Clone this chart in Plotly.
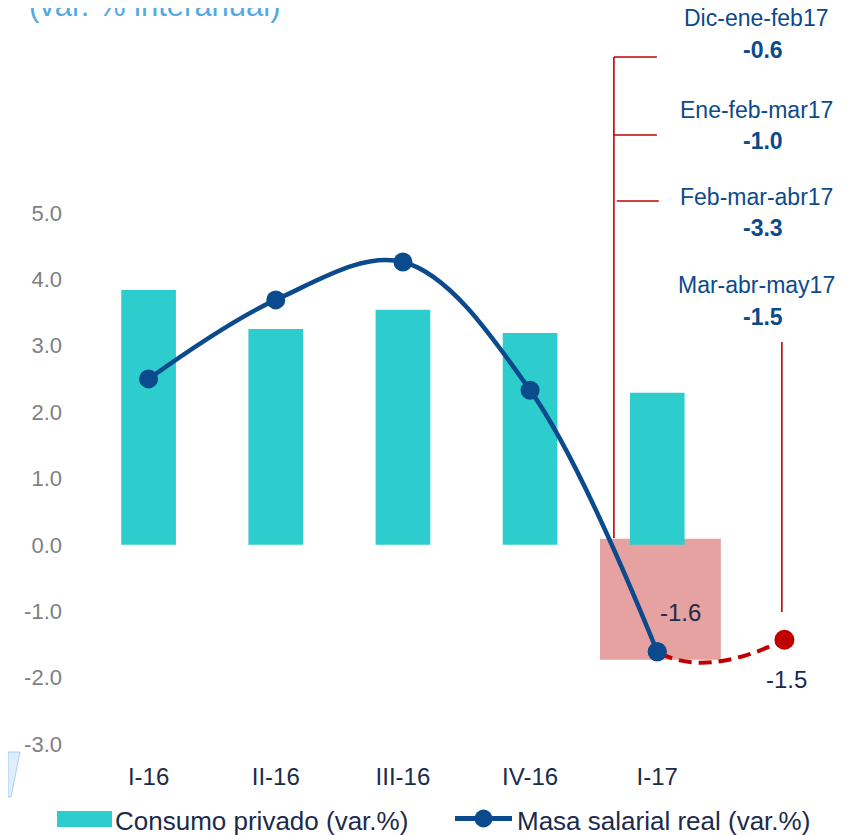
import plotly.graph_objects as go

# ---------------- data ----------------
categories = ["I-16", "II-16", "III-16", "IV-16", "I-17"]
consumo = [3.84, 3.25, 3.54, 3.19, 2.29]          # Consumo privado (var.%)
masa = [2.50, 3.69, 4.26, 2.33, -1.61]            # Masa salarial real (var.%)
masa_next = -1.43                                  # estimated next period (Mar-abr-may17)
period_labels = ["Dic-ene-feb17", "Ene-feb-mar17", "Feb-mar-abr17", "Mar-abr-may17"]
period_values = [-0.6, -1.0, -3.3, -1.5]
y_ticks = [-3, -2, -1, 0, 1, 2, 3, 4, 5]

# ---------------- styles ----------------
FONT = "Liberation Sans, Arial, sans-serif"
TEAL = "#2ECDCD"
BLUE = "#0B4A8C"
RED = "#C00000"
PINK = "rgb(230,161,161)"
DARK = "#1B2B4B"
GRAY = "#7F7F7F"
OFF = 8                      # page body margin
W, H = 857 - OFF, 835 - OFF
ML, MR, MT, MB = 77, 9, 0, 91
PW, PH = W - ML - MR, H - MT - MB
YMIN, YMAX = -3.0, 8.087
XMIN, XMAX = -0.5, 5.5

def px_x(px):
    return (px - OFF - ML) / PW

def px_y(py):
    return (PH - (py - OFF - MT)) / PH

xs = list(range(len(categories)))

fig = go.Figure()

# bars
fig.add_trace(go.Bar(x=xs, y=consumo, width=0.43, marker=dict(color=TEAL, line=dict(width=0)),
                     name="Consumo privado (var.%)", showlegend=False,
                     xaxis="x", yaxis="y"))

# blue smoothed line
fig.add_trace(go.Scatter(x=xs, y=masa, mode="lines+markers",
                         line=dict(color=BLUE, width=4.5, shape="spline", smoothing=1),
                         marker=dict(color=BLUE, size=19),
                         name="Masa salarial real (var.%)", showlegend=False,
                         xaxis="x", yaxis="y"))

# red dashed continuation (clipped to the region right of I-17)
red_x = xs[-2:] + [len(categories)]
red_y = masa[-2:] + [masa_next]
fig.add_trace(go.Scatter(x=red_x, y=red_y, mode="lines",
                         line=dict(color=RED, width=4, dash="13px,7px", shape="spline", smoothing=1.3),
                         showlegend=False, xaxis="x2", yaxis="y2"))
# end-point markers (blue I-17 point kept on top of the dashed line, red estimate)
fig.add_trace(go.Scatter(x=red_x[1:], y=red_y[1:], mode="markers",
                         marker=dict(color=[BLUE, RED], size=[19, 20], opacity=1, line=dict(width=0)),
                         showlegend=False, cliponaxis=False, xaxis="x2", yaxis="y2"))

split = (xs[-1] - XMIN) / (XMAX - XMIN)

shapes = []
# pink highlight rectangle
shapes.append(dict(type="rect", xref="x", yref="y", x0=3.55, x1=4.5, y0=0.09, y1=-1.73,
                   fillcolor=PINK, line=dict(width=0), layer="below"))
# red leader lines
lw = 1.6
for (x0, y0, x1, y1) in [(3.659, 7.35, 3.659, 0.105),
                         (3.659, 7.35, 3.997, 7.35),
                         (3.659, 6.175, 3.997, 6.175),
                         (3.682, 5.18, 4.012, 5.18),
                         (4.98, 3.057, 4.98, -1.01)]:
    shapes.append(dict(type="line", xref="x", yref="y", x0=x0, y0=y0, x1=x1, y1=y1,
                       line=dict(color=RED, width=lw), layer="above"))

# manual legend
shapes.append(dict(type="rect", xref="paper", yref="paper",
                   x0=px_x(57), x1=px_x(112), y0=px_y(827), y1=px_y(811),
                   fillcolor=TEAL, line=dict(width=0)))
shapes.append(dict(type="line", xref="paper", yref="paper",
                   x0=px_x(455), x1=px_x(512), y0=px_y(818.5), y1=px_y(818.5),
                   line=dict(color=BLUE, width=5)))
shapes.append(dict(type="circle", xref="paper", yref="paper",
                   x0=px_x(474.5), x1=px_x(492.5), y0=px_y(827.5), y1=px_y(809.5),
                   fillcolor=BLUE, line=dict(width=0)))
# faint logo fragment bottom-left
shapes.append(dict(type="path", xref="paper", yref="paper",
                   path=f"M {px_x(8)},{px_y(752)} L {px_x(20)},{px_y(752)} L {px_x(11)},{px_y(797)} L {px_x(8)},{px_y(797)} Z",
                   fillcolor="rgba(160,205,245,0.35)", line=dict(color="rgba(120,185,240,0.6)", width=1)))

annotations = []
# title
annotations.append(dict(xref="paper", yref="paper", x=px_x(27), y=px_y(5), xanchor="left", yanchor="middle",
                        text="(var. % interanual)", showarrow=False,
                        font=dict(family=FONT, size=31, color="#55A9E3")))
# period annotations
lab_y = [7.93, 6.55, 5.24, 3.92]
val_y = [7.45, 6.08, 4.77, 3.43]
for lab, val, ly, vy in zip(period_labels, period_values, lab_y, val_y):
    annotations.append(dict(xref="x", yref="y", x=4.78, y=ly, text=lab, showarrow=False,
                            xanchor="center", yanchor="middle",
                            font=dict(family=FONT, size=23, color=BLUE)))
    annotations.append(dict(xref="x", yref="y", x=4.83, y=vy, text=f"<b>{val:.1f}</b>", showarrow=False,
                            xanchor="center", yanchor="middle",
                            font=dict(family=FONT, size=23, color=BLUE)))
# data labels
annotations.append(dict(xref="x", yref="y", x=xs[-1] + 0.18, y=masa[-1] + 0.59, text=f"{masa[-1]:.1f}",
                        showarrow=False, font=dict(family=FONT, size=24, color=DARK)))
annotations.append(dict(xref="x", yref="y", x=len(categories) + 0.02, y=-2.03, text=f"{period_values[-1]:.1f}",
                        showarrow=False, font=dict(family=FONT, size=24, color=DARK)))
# legend texts
annotations.append(dict(xref="paper", yref="paper", x=px_x(113), y=px_y(821), xanchor="left", yanchor="middle",
                        text="Consumo privado (var.%)", showarrow=False,
                        font=dict(family=FONT, size=26, color=DARK)))
annotations.append(dict(xref="paper", yref="paper", x=px_x(515), y=px_y(821), xanchor="left", yanchor="middle",
                        text="Masa salarial real (var.%)", showarrow=False,
                        font=dict(family=FONT, size=26, color=DARK)))

fig.update_layout(
    width=W, height=H,
    margin=dict(l=ML, r=MR, t=MT, b=MB, pad=0),
    paper_bgcolor="white", plot_bgcolor="rgba(0,0,0,0)",
    showlegend=False,
    font=dict(family=FONT),
    shapes=shapes, annotations=annotations,
    xaxis=dict(domain=[0, 1], range=[XMIN, XMAX], tickmode="array", tickvals=xs, ticktext=categories,
               showline=False, showgrid=False, zeroline=False, ticks="", ticklabelstandoff=16,
               tickfont=dict(family=FONT, size=24, color=DARK)),
    yaxis=dict(domain=[0, 1], range=[YMIN, YMAX], tickmode="array", tickvals=y_ticks,
               ticktext=[f"{v:.1f}" for v in y_ticks], showgrid=False, zeroline=False, showline=False,
               ticks="", ticklabelstandoff=22, tickfont=dict(family=FONT, size=22, color=GRAY)),
    xaxis3=dict(overlaying="x", anchor="free", position=(0 - YMIN) / (YMAX - YMIN),
                range=[XMIN, XMAX], tickmode="array",
                tickvals=[i - 0.5 for i in range(len(categories) + 2)],
                showticklabels=False, ticks="outside", ticklen=7, tickwidth=2, tickcolor="#A6A6A6",
                showline=True, linecolor="#A6A6A6", linewidth=2, showgrid=False, zeroline=False),
    xaxis2=dict(domain=[split, 1], range=[xs[-1], XMAX], visible=False, anchor="y2"),
    yaxis2=dict(domain=[0, 1], range=[YMIN, YMAX], visible=False, anchor="x2"),
)

fig.write_html("out.html")
